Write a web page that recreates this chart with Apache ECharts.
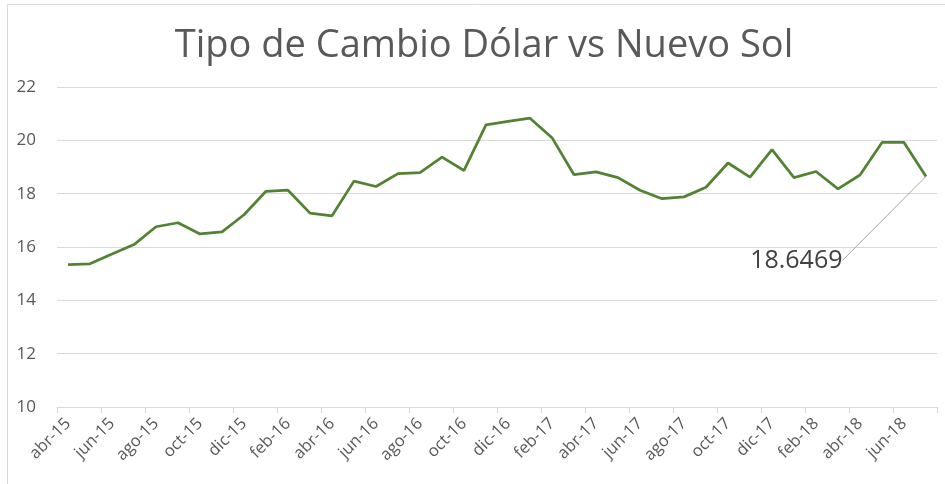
<!DOCTYPE html>
<html>
<head>
<meta charset="utf-8">
<script src="https://cdn.jsdelivr.net/npm/echarts@6/dist/echarts.min.js"></script>
<style>
html,body{margin:0;padding:0;background:#fff;}
#chart{width:945px;height:484px;}
</style>
</head>
<body>
<div id="chart"></div>
<script>
const months = [
  'abr-15','may-15','jun-15','jul-15','ago-15','sep-15','oct-15','nov-15','dic-15',
  'ene-16','feb-16','mar-16','abr-16','may-16','jun-16','jul-16','ago-16','sep-16','oct-16','nov-16','dic-16',
  'ene-17','feb-17','mar-17','abr-17','may-17','jun-17','jul-17','ago-17','sep-17','oct-17','nov-17','dic-17',
  'ene-18','feb-18','mar-18','abr-18','may-18','jun-18','jul-18'
];
const rates = [
  15.34, 15.37, 15.74, 16.09, 16.76, 16.91, 16.49, 16.57, 17.21,
  18.09, 18.13, 17.27, 17.17, 18.47, 18.27, 18.75, 18.79, 19.37, 18.87, 20.58, 20.71,
  20.83, 20.10, 18.71, 18.82, 18.60, 18.13, 17.81, 17.88, 18.24, 19.15, 18.62, 19.65,
  18.60, 18.83, 18.18, 18.70, 19.92, 19.92, 18.6469
];
const titleText = 'Tipo de Cambio Dólar vs Nuevo Sol';
const yMin = 10, yMax = 22, yStep = 2;

const lastIdx = rates.length - 1;
const seriesData = rates.map((v, i) => i === lastIdx ? {
  value: v,
  label: {show: true, formatter: '{c}'},
  labelLine: {show: true}
} : v);

const chart = echarts.init(document.getElementById('chart'), null, {renderer: 'canvas'});
chart.setOption({
  backgroundColor: '#ffffff',
  animation: false,
  graphic: [{
    type: 'rect', silent: true,
    shape: {x: 7.5, y: 4.5, width: 960, height: 500},
    style: {fill: 'none', stroke: '#d9d9d9', lineWidth: 1}
  }],
  title: {
    text: titleText,
    left: 479, textAlign: 'center', top: 22,
    textStyle: {fontFamily: 'Open Sans', fontSize: 38, fontWeight: 'normal', color: '#595959'}
  },
  grid: {left: 57, right: 8, top: 87, bottom: 77, containLabel: false},
  xAxis: {
    type: 'category',
    data: months,
    boundaryGap: true,
    axisLine: {lineStyle: {color: '#d9d9d9', width: 1}},
    axisTick: {show: true, interval: 1, length: 6, lineStyle: {color: '#d9d9d9'}},
    axisLabel: {
      interval: 1, rotate: 45, margin: 14,
      fontFamily: 'Open Sans', fontSize: 16.5, color: '#595959'
    },
    splitLine: {show: false}
  },
  yAxis: {
    type: 'value',
    min: yMin, max: yMax, interval: yStep,
    axisLine: {show: false},
    axisTick: {show: false},
    axisLabel: {margin: 21, fontFamily: 'Open Sans', fontSize: 17, color: '#595959'},
    splitLine: {lineStyle: {color: '#d9d9d9', width: 1}}
  },
  series: [{
    type: 'line',
    data: seriesData,
    showSymbol: true,
    showAllSymbol: true,
    symbol: 'circle',
    symbolSize: 1,
    itemStyle: {color: 'rgba(84,130,53,0)'},
    lineStyle: {color: '#548235', width: 2.75},
    label: {
      show: false, position: 'left', distance: 5, padding: [0, 10, 0, 0],
      fontFamily: 'Open Sans', fontSize: 25, color: '#404040'
    },
    labelLine: {lineStyle: {color: '#a6a6a6', width: 1}},
    labelLayout: function (p) {
      if (p.dataIndex === lastIdx) return {dx: -68, dy: 84};
      return {};
    },
    emphasis: {disabled: true}
  }]
});
</script>
</body>
</html>
